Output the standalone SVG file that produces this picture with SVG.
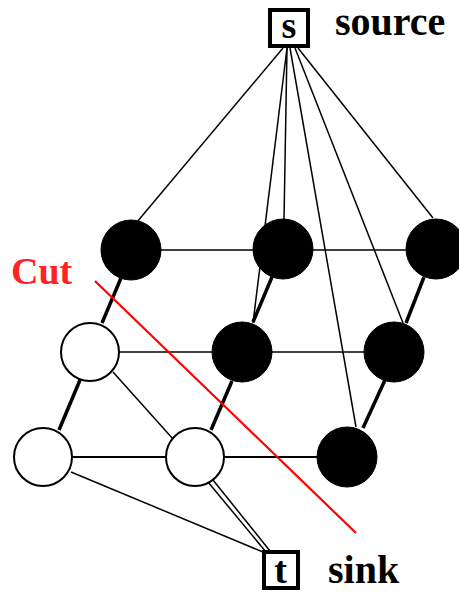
<svg xmlns="http://www.w3.org/2000/svg" width="459" height="592" viewBox="0 0 459 592">
<style>
.thin{stroke:#000;stroke-width:1.5;fill:none}
.thick{stroke:#000;stroke-width:3.5;fill:none}
.blk{fill:#000;stroke:#000;stroke-width:1}
.wht{fill:#fff;stroke:#000;stroke-width:2}
.box{fill:#fff;stroke:#000;stroke-width:4}
.lbl{font-family:"Liberation Serif","Times New Roman",serif;font-weight:bold;fill:#000}
</style>
<rect width="459" height="592" fill="#fff"/>
<g id="connectors">
<line class="thin" x1="131" y1="250" x2="436" y2="250"/>
<line class="thin" x1="90" y1="352" x2="394" y2="352"/>
<line class="thin" x1="43" y1="457" x2="347" y2="457" style="stroke-width:2"/>
<line class="thin" x1="283" y1="48" x2="137" y2="222"/>
<line class="thin" x1="287" y1="48" x2="284" y2="220"/>
<line class="thin" x1="287" y1="48" x2="253" y2="323"/>
<line class="thin" x1="290" y1="48" x2="356" y2="427"/>
<line class="thin" x1="295" y1="48" x2="403" y2="323"/>
<line class="thin" x1="298" y1="48" x2="433" y2="218"/>
<line class="thick" x1="121" y1="278" x2="102" y2="323"/>
<line class="thick" x1="272" y1="277" x2="253" y2="322"/>
<line class="thick" x1="424" y1="277" x2="406" y2="323"/>
<line class="thick" x1="80" y1="380" x2="59" y2="430"/>
<line class="thick" x1="232" y1="381" x2="211" y2="430"/>
<line class="thick" x1="385" y1="380" x2="363" y2="428"/>
<line class="thin" x1="113" y1="372" x2="173" y2="439"/>
<line class="thin" x1="71" y1="472" x2="263" y2="552"/>
<line class="thin" x1="208" y1="482" x2="266" y2="552"/>
<line class="thin" x1="213" y1="480" x2="270" y2="551"/>
</g>
<g id="A1"><circle class="blk" cx="131" cy="250" r="30"/></g>
<g id="A2"><circle class="blk" cx="283" cy="249" r="30"/></g>
<g id="A3"><circle class="blk" cx="436" cy="249" r="30"/></g>
<g id="B1"><circle class="wht" cx="90" cy="352" r="29"/></g>
<g id="B2"><circle class="blk" cx="242" cy="352" r="30"/></g>
<g id="B3"><circle class="blk" cx="394" cy="352" r="30"/></g>
<g id="C1"><circle class="wht" cx="43" cy="457" r="29"/></g>
<g id="C2"><circle class="wht" cx="195" cy="457" r="29"/></g>
<g id="C3"><circle class="blk" cx="347" cy="457" r="30"/></g>
<g id="source">
<rect class="box" x="270" y="10" width="38" height="36"/>
<text class="lbl" x="289" y="38" font-size="38" text-anchor="middle">s</text>
<text class="lbl" x="335" y="35" font-size="40">source</text>
</g>
<g id="sink">
<rect class="box" x="264" y="552" width="34" height="36"/>
<text class="lbl" x="280.5" y="583" font-size="38" text-anchor="middle">t</text>
<text class="lbl" x="328" y="583" font-size="40">sink</text>
</g>
<g id="cut">
<line x1="95" y1="281" x2="356" y2="533" stroke="#f00" stroke-width="2.2"/>
<text x="11" y="284" font-family="Liberation Serif,Times New Roman,serif" font-weight="bold" font-size="38" fill="#f22">Cut</text>
</g>
</svg>
